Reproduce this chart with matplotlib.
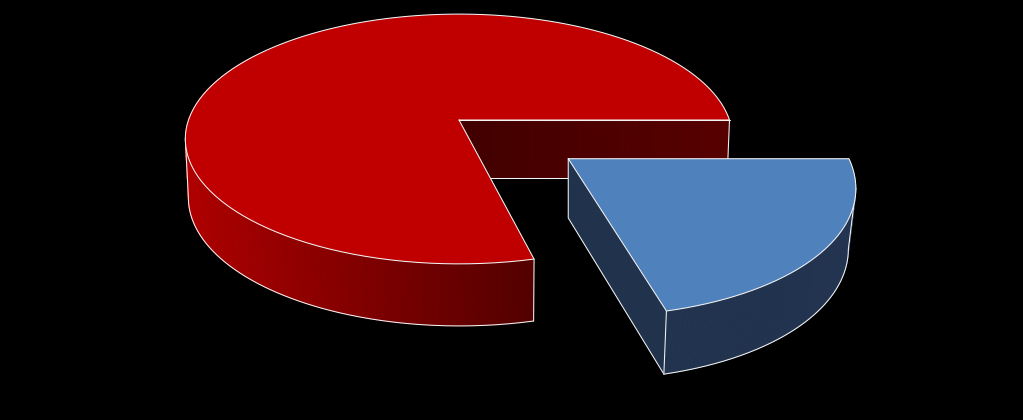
import numpy as np
import matplotlib
matplotlib.use("Agg")
import matplotlib.pyplot as plt
from matplotlib.collections import PolyCollection
from matplotlib.colors import to_rgb

# data
categories = ["A", "B"]
shares = [78.8, 21.2]
explode = [0.0, 0.49]
top_colors = ["#C00000", "#4F81BD"]
side_light = ["#B00000", "#22344F"]
side_dark = ["#540000", "#20324C"]

# view
CX, CY, A, B, P = 459, 120, 270.5, 122, 0.152
H = 58
RED_PIVOT, RED_SHRINK = 490, 0.010
BLUE_PIVOT, BLUE_SHRINK, BLUE_RADIUS = 568, 0.026, 0.99
EDGE = dict(color="#F4F4F4", lw=0.75, solid_capstyle="round", solid_joinstyle="round")


def project(u, v, down=0.0, pivot=490, shrink=0.01):
    u, v = np.asarray(u, float), np.asarray(v, float)
    w = 1 + P * v
    x = CX + A * u / w
    x = x - down * shrink * (x - pivot)
    y = CY - B * v / w + down * H * (1 - 0.07 * v)
    return x, y


def arc(th0, th1, off, radius=1.0, n=240):
    t = np.radians(np.linspace(th0, th1, n))
    return off[0] + radius * np.cos(t), off[1] - radius * np.sin(t)


fig = plt.figure(figsize=(10.23, 4.2), dpi=100, facecolor="black")
ax = fig.add_axes([0, 0, 1, 1])
ax.set_xlim(0, 1023)
ax.set_ylim(420, 0)
ax.axis("off")


def line(x, y, z):
    ax.plot(x, y, zorder=z, **EDGE)


def strips(xt, yt, xb, yb, colors, z):
    polys = [[(xt[i], yt[i]), (xt[i + 1], yt[i + 1]), (xb[i + 1], yb[i + 1]), (xb[i], yb[i])]
             for i in range(len(xt) - 1)]
    ax.add_collection(PolyCollection(polys, facecolors=colors, edgecolors=colors,
                                     linewidths=0.6, zorder=z))


# angles run clockwise from east; blue first
fr = np.array(shares) / sum(shares)
blue_end = 360 * fr[1]
mid = np.radians(blue_end / 2)
off_blue = (explode[1] * np.cos(mid), -explode[1] * np.sin(mid))
off_red = (explode[0], explode[0])

# --- red slice ---
start, end = blue_end, 360.0
su = np.linspace(0, 1, 40)
x0, y0 = project(su, 0 * su)
x1, y1 = project(su, 0 * su, 1.0, RED_PIVOT, RED_SHRINK)
c0, c1 = np.array([66, 0, 0]) / 255, np.array([88, 0, 0]) / 255
strips(x0, y0, x1, y1, [c0 + (c1 - c0) * s for s in su[:-1]], 1)
line(x0, y0, 2)
line(x1, y1, 2)
line([x0[-1], x1[-1]], [y0[-1], y1[-1]], 2)

u, v = arc(start, 215, off_red)
xt, yt = project(u, v)
xb, yb = project(u, v, 1.0, RED_PIVOT, RED_SHRINK)
cl, cd = np.array(to_rgb(side_light[0])), np.array(to_rgb(side_dark[0]))
cols = [cl + (cd - cl) * np.clip((xt[i] - 185) / (532 - 185), 0, 1) for i in range(len(u) - 1)]
strips(xt, yt, xb, yb, cols, 3)
k = int(np.argmin(xb))
j = int(np.argmin(xt))
line(np.r_[xb[:k + 1], xt[j]], np.r_[yb[:k + 1], yt[j]], 4)
line([xt[0], xb[0]], [yt[0], yb[0]], 4)

u, v = arc(start, end, off_red)
xt, yt = project(u, v)
ax.fill(np.r_[CX, xt], np.r_[CY, yt], color=top_colors[0], lw=0, zorder=5)
line(np.r_[CX, xt, CX], np.r_[CY, yt, CY], 6)

# --- blue slice ---
u, v = arc(0, blue_end, off_blue, BLUE_RADIUS)
xt, yt = project(u, v)
xb, yb = project(u, v, 1.0, BLUE_PIVOT, BLUE_SHRINK)
apx, apy = project(off_blue[0], off_blue[1])
bpx, bpy = project(off_blue[0], off_blue[1], 1.0, BLUE_PIVOT, BLUE_SHRINK)

ax.fill([apx, xt[-1], xb[-1], bpx], [apy, yt[-1], yb[-1], bpy], color=side_dark[1], lw=0, zorder=7)
line([apx, bpx, xb[-1]], [apy, bpy, yb[-1]], 8)

strips(xt, yt, xb, yb, [to_rgb(side_light[1])] * (len(u) - 1), 8)
k = int(np.argmax(xb))
j = int(np.argmax(xt))
line(np.r_[xt[j], xb[k:]], np.r_[yt[j], yb[k:]], 9)
line([xt[-1], xb[-1]], [yt[-1], yb[-1]], 9)

ax.fill(np.r_[apx, xt], np.r_[apy, yt], color=top_colors[1], lw=0, zorder=10)
line(np.r_[apx, xt, apx], np.r_[apy, yt, apy], 11)

fig.savefig("out.png", dpi=100, facecolor="black")
